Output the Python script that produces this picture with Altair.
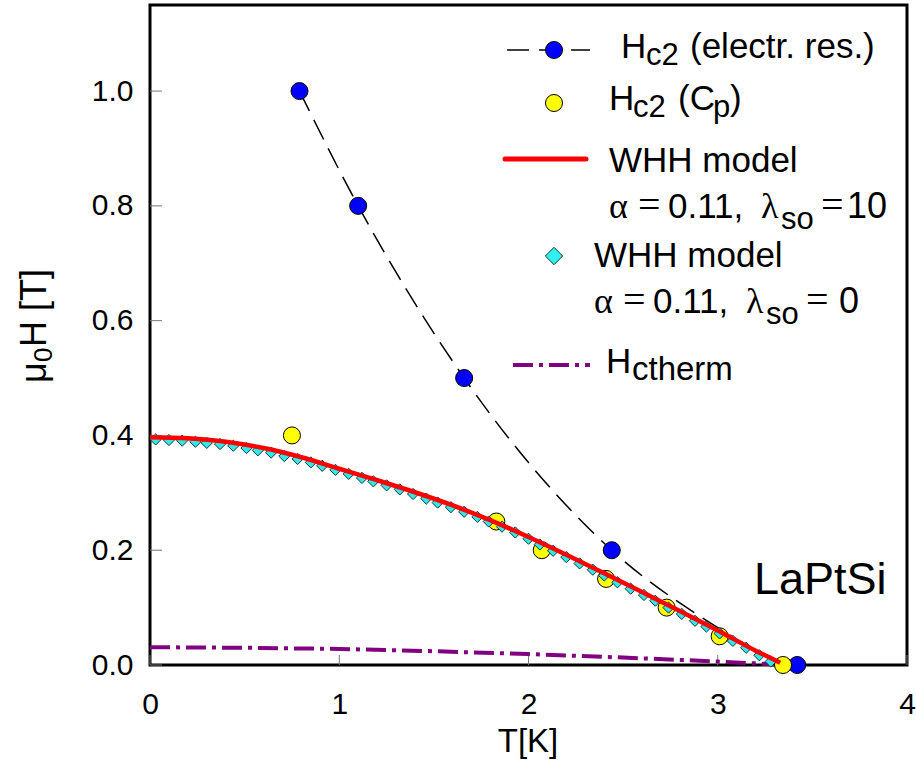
import altair as alt
import pandas as pd

# Hc2 from electrical resistivity
res_t = [0.79, 1.10, 1.66, 2.44, 3.42]
res_h = [1.00, 0.80, 0.50, 0.20, 0.00]

# dashed guide curve drawn through the resistivity data
guide_t = [0.79, 1.10, 1.66, 2.44, 3.00, 3.34]
guide_h = [1.00, 0.80, 0.50, 0.20, 0.065, 0.00]

# Hc2 from specific heat
cp_t = [0.75, 1.83, 2.07, 2.41, 2.73, 3.01, 3.345]
cp_h = [0.40, 0.25, 0.20, 0.15, 0.10, 0.05, 0.00]

# WHH model, alpha = 0.11, lambda_so = 10
whh10_t = [0.0, 0.2, 0.4, 0.6, 0.8, 1.0, 1.2, 1.4, 1.6, 1.8,
           2.0, 2.2, 2.4, 2.6, 2.8, 3.0, 3.2, 3.33]
whh10_h = [0.397, 0.395, 0.389, 0.378, 0.362, 0.342, 0.322, 0.301, 0.278, 0.252,
           0.223, 0.192, 0.160, 0.127, 0.094, 0.060, 0.025, 0.004]

# WHH model, alpha = 0.11, lambda_so = 0
whh0_t = [0.03, 0.10, 0.17, 0.24, 0.30, 0.37, 0.44, 0.51, 0.57, 0.64,
          0.71, 0.78, 0.85, 0.91, 0.98, 1.05, 1.12, 1.18, 1.25, 1.32,
          1.39, 1.46, 1.52, 1.59, 1.66, 1.73, 1.79, 1.86, 1.93, 2.00,
          2.06, 2.13, 2.20, 2.27, 2.34, 2.40, 2.47, 2.54, 2.61, 2.67,
          2.74, 2.81, 2.88, 2.94, 3.01, 3.08, 3.15, 3.22, 3.28]
whh0_h = [0.393, 0.392, 0.391, 0.389, 0.387, 0.385, 0.382, 0.378, 0.374, 0.370,
          0.364, 0.359, 0.353, 0.347, 0.340, 0.333, 0.326, 0.320, 0.313, 0.306,
          0.298, 0.290, 0.283, 0.275, 0.267, 0.258, 0.250, 0.241, 0.231, 0.220,
          0.210, 0.199, 0.188, 0.177, 0.166, 0.156, 0.144, 0.133, 0.122, 0.112,
          0.100, 0.089, 0.077, 0.067, 0.055, 0.042, 0.030, 0.017, 0.006]

# thermodynamic critical field
hct_t = [0.0, 0.5, 1.0, 1.5, 2.0, 2.5, 3.0, 3.32]
hct_h = [0.031, 0.030, 0.028, 0.024, 0.019, 0.013, 0.006, 0.001]

x_ticks = [0, 1, 2, 3, 4]
y_ticks = [0.0, 0.2, 0.4, 0.6, 0.8, 1.0]

W, H = 757, 660
SANS = "Liberation Sans"
SERIF = "Liberation Serif"

xs = alt.Scale(domain=[0, 4], nice=False, zero=False)
ys = alt.Scale(domain=[0, 1.15], nice=False, zero=False)

# one shared axis definition per direction, so the layers merge cleanly
x_ax = alt.Axis(values=x_ticks, format="d", labelFlush=False,
                labelBaseline="top", labelPadding=24, title=None)
y_ax = alt.Axis(values=y_ticks, format=".1f", labelPadding=17,
                labelOverlap=False, title=None)

X = alt.X("T:Q", scale=xs, axis=x_ax)
Y = alt.Y("H:Q", scale=ys, axis=y_ax)


def frame(t, h):
    return pd.DataFrame({"T": t, "H": h})


# inward ticks on the bottom and left edges
x_tick_marks = alt.Chart(pd.DataFrame({"T": x_ticks})).mark_rule(
    color="#777777", strokeWidth=1
).encode(x=X, y=alt.value(H), y2=alt.value(H - 10))

y_tick_marks = alt.Chart(pd.DataFrame({"H": y_ticks})).mark_rule(
    color="#777777", strokeWidth=1
).encode(y=Y, x=alt.value(0), x2=alt.value(12))

hct_line = alt.Chart(frame(hct_t, hct_h)).mark_line(
    color="#800080", strokeWidth=4, strokeDash=[20, 6, 4, 6]
).encode(x=X, y=Y)

guide_line = alt.Chart(frame(guide_t, guide_h)).mark_line(
    color="black", strokeWidth=1.5, strokeDash=[22, 10], interpolate="monotone"
).encode(x=X, y=Y)

res_pts = alt.Chart(frame(res_t, res_h)).mark_point(
    shape="circle", filled=True, fill="#0000FF", stroke="black",
    strokeWidth=1, size=290, opacity=1
).encode(x=X, y=Y)

cp_pts = alt.Chart(frame(cp_t, cp_h)).mark_point(
    shape="circle", filled=True, fill="#FFFF00", stroke="black",
    strokeWidth=1, size=290, opacity=1
).encode(x=X, y=Y)

whh0_pts = alt.Chart(frame(whh0_t, whh0_h)).mark_point(
    shape="diamond", filled=True, fill="#30E8E8", stroke="#143838",
    strokeWidth=1, size=125, opacity=1
).encode(x=X, y=Y)

whh10_line = alt.Chart(frame(whh10_t, whh10_h)).mark_line(
    color="#FF0000", strokeWidth=4.5, interpolate="monotone"
).encode(x=X, y=Y)


def one():
    return pd.DataFrame({"k": [0]})


def label(text, x, y, size, font=SANS, angle=0, align="left"):
    return alt.Chart(pd.DataFrame({"s": [text]})).mark_text(
        font=font, fontSize=size, align=align, baseline="alphabetic",
        angle=angle, color="black"
    ).encode(text="s:N", x=alt.value(x), y=alt.value(y))


def key_line(x1, x2, y, **style):
    return alt.Chart(one()).mark_rule(**style).encode(
        x=alt.value(x1), x2=alt.value(x2), y=alt.value(y))


def key_point(x, y, **style):
    return alt.Chart(one()).mark_point(filled=True, opacity=1, **style).encode(
        x=alt.value(x), y=alt.value(y))


legend = [
    # electrical resistivity
    key_line(357, 440, 45, color="black", strokeWidth=1.5, strokeDash=[22, 10]),
    key_point(404, 45, shape="circle", fill="#0000FF", stroke="black",
              strokeWidth=1, size=290),
    label("H", 471, 53, 35), label("c2", 496, 60, 31),
    label("(electr. res.)", 540, 53, 35),
    # specific heat
    key_point(404, 98, shape="circle", fill="#FFFF00", stroke="black",
              strokeWidth=1, size=290),
    label("H", 459, 105, 35), label("c2", 483, 112, 31),
    label("(C", 528, 105, 35), label("p", 563, 112, 31), label(")", 580, 105, 35),
    # WHH lambda_so = 10
    key_line(355, 436, 154, color="#FF0000", strokeWidth=5, strokeCap="round"),
    label("WHH model", 459, 167, 35),
    label("α", 459, 213, 36, SERIF), label("=", 488, 213, 40, SERIF),
    label("0.11,", 518, 213, 35), label("λ", 611, 213, 36, SERIF),
    label("so", 631, 224, 31), label("=", 671, 213, 40, SERIF),
    label("10", 697, 213, 36),
    # WHH lambda_so = 0
    key_point(404, 251, shape="diamond", fill="#30F0F0", stroke="#143838",
              strokeWidth=1, size=300),
    label("WHH model", 444, 262, 35),
    label("α", 444, 308, 36, SERIF), label("=", 473, 308, 40, SERIF),
    label("0.11,", 503, 308, 35), label("λ", 596, 308, 36, SERIF),
    label("so", 616, 319, 31), label("=", 656, 308, 40, SERIF),
    label("0", 689, 308, 36),
    # thermodynamic critical field
    key_line(363, 440, 360, color="#800080", strokeWidth=4,
             strokeDash=[20, 6, 4, 6]),
    label("H", 456, 368, 35), label("ctherm", 482, 375, 33),
]

titles = [
    label("T[K]", 378, 747, 33, align="center"),
    label("μ", -104, 378, 36, angle=270),
    label("0", -98, 357, 26, angle=270),
    label("H [T]", -104, 342, 36, angle=270),
    label("LaPtSi", 604, 589, 45),
]

chart = alt.layer(
    x_tick_marks, y_tick_marks, hct_line, guide_line, res_pts, cp_pts,
    whh0_pts, whh10_line, *legend, *titles
).properties(
    width=W, height=H,
    padding={"left": 150, "top": 5, "right": 9, "bottom": 111},
    autosize=alt.AutoSizeParams(type="none"),
    background="white",
).configure_view(
    stroke="black", strokeWidth=3
).configure_axis(
    grid=False, domain=False, ticks=False, tickSize=0,
    labelFont=SANS, labelFontSize=30, labelColor="black",
)

chart.save("out.html", embed_options={"renderer": "svg", "actions": False})
